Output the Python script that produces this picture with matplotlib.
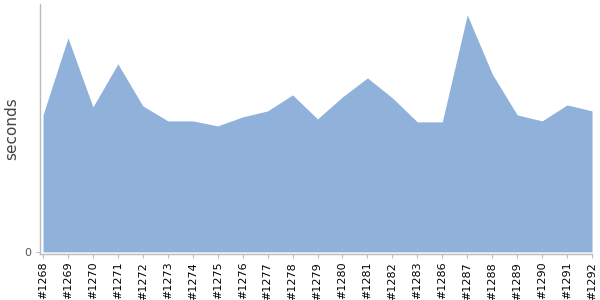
import matplotlib
matplotlib.use("Agg")
import matplotlib.pyplot as plt

builds = ["#1268", "#1269", "#1270", "#1271", "#1272", "#1273", "#1274", "#1275",
          "#1276", "#1277", "#1278", "#1279", "#1280", "#1281", "#1282", "#1283",
          "#1286", "#1287", "#1288", "#1289", "#1290", "#1291", "#1292"]
seconds = [137, 214, 145, 188, 146, 131, 131, 126,
           135, 141, 157, 133, 155, 174, 154, 130,
           130, 237, 178, 137, 131, 147, 141]

fig = plt.figure(figsize=(6, 3), dpi=100)
ax = fig.add_axes([0.0667, 0.155, 0.92, 0.832])

x = range(len(builds))
ax.fill_between(x, 0, seconds, color="#8fb1da", lw=0)

ax.set_xlim(-0.12, len(builds) - 1)
ax.set_ylim(-1.6, 248)
ax.set_xticks(list(x))
ax.set_xticklabels(builds, rotation=90, fontsize=8, color="black")
ax.set_yticks([0])
ax.set_yticklabels(["0"], fontsize=8, color="#555555")
ax.set_ylabel("seconds", fontsize=11, color="#444444")
ax.yaxis.set_label_coords(-0.038, 0.5)

for side in ("top", "right"):
    ax.spines[side].set_visible(False)
for side in ("left", "bottom"):
    ax.spines[side].set_color("#bbbbbb")
    ax.spines[side].set_linewidth(1)
ax.tick_params(axis="both", length=3, color="#bbbbbb", pad=3)

fig.savefig("out.png", dpi=100)
